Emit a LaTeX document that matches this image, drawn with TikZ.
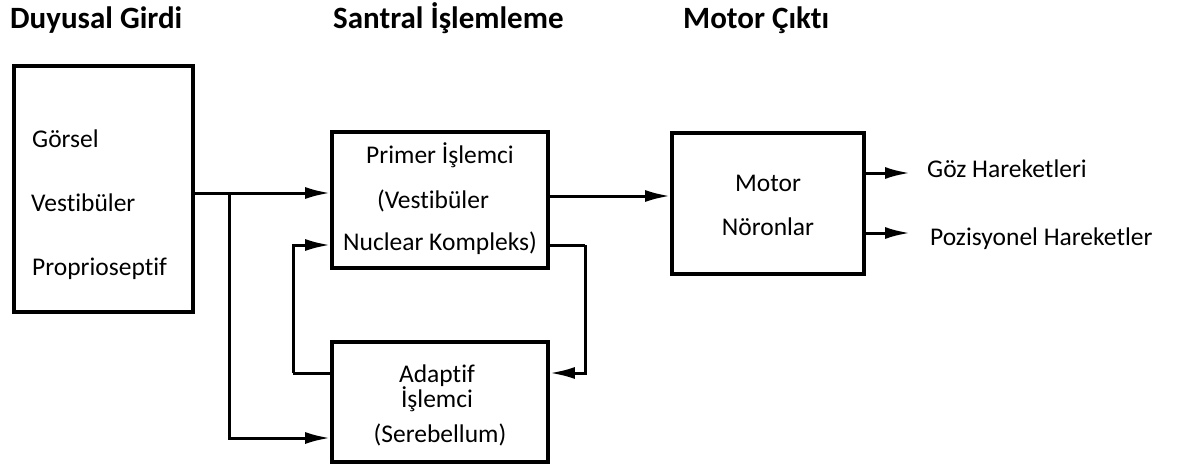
\documentclass[tikz,border=0pt]{standalone}
\usepackage{fontspec}
\setmainfont{Carlito}[Ligatures={NoCommon}]
\usetikzlibrary{arrows.meta,calc}
\tikzset{
  box/.style={draw, line width=3.6pt, rectangle, inner sep=0pt},
  lbl/.style={font=\fontsize{25.5}{28}\selectfont, inner sep=0pt, anchor=base},
  hdr/.style={font=\bfseries\fontsize{31}{34}\selectfont, inner sep=0pt, anchor=base west},
  arr/.style={line width=3pt, -{Latex[length=25pt,width=12pt]}},
  ln/.style={line width=3pt}
}
\begin{document}
\begin{tikzpicture}[x=1pt,y=-1pt]
\useasboundingbox (0,0) rectangle (1177,468);
% headers
\node[hdr] (h1) at (10,29) {Duyusal Girdi};
\node[hdr] (h2) at (333,29) {Santral İşlemleme};
\node[hdr] (h3) at (683,29) {Motor Çıktı};
% boxes
\node[box, minimum width=179pt, minimum height=246pt] (inp) at (103.5,189) {};
\node[box, minimum width=216pt, minimum height=136pt] (prim) at (440,200) {};
\node[box, minimum width=216pt, minimum height=120pt] (adap) at (440,402) {};
\node[box, minimum width=192pt, minimum height=141pt] (mot) at (768,203.5) {};
% texts
\node[lbl, anchor=base west] (t1) at (32,147) {Görsel};
\node[lbl, anchor=base west] (t2) at (31,211) {Vestibüler};
\node[lbl, anchor=base west] (t3) at (32,275) {Proprioseptif};
\node[lbl] (p1) at (440,163) {Primer İşlemci};
\node[lbl] (p2) at (433,208) {(Vestibüler};
\node[lbl] (p3) at (440,250) {Nuclear Kompleks)};
\node[lbl] (a1) at (437,382) {Adaptif};
\node[lbl] (a2) at (437,407) {İşlemci};
\node[lbl] (a3) at (440,442) {(Serebellum)};
\node[lbl] (m1) at (768,191) {Motor};
\node[lbl] (m2) at (768,235) {Nöronlar};
\node[lbl, anchor=base west] (o1) at (927,177) {Göz Hareketleri};
\node[lbl, anchor=base west] (o2) at (930,245) {Pozisyonel Hareketler};
% connectors
\coordinate (j) at (229,193);
\coordinate (fbL) at (293,373);
\coordinate (fbR) at (585,245);
\draw[arr] (inp.east |- j) -- (prim.west |- j);
\draw[arr] (j) |- (adap.west |- 0,438);
\draw[ln] (adap.west |- fbL) -- (fbL);
\draw[arr] (fbL) |- (prim.west |- 0,245);
\draw[ln] (prim.east |- fbR) -- (fbR);
\draw[arr] (fbR) |- (adap.east |- fbL);
\draw[arr] (prim.east |- 0,196) -- (mot.west |- 0,196);
\draw[arr] (mot.east |- 0,173) -- (910,173);
\draw[arr] (mot.east |- 0,233) -- (910,233);
\end{tikzpicture}
\end{document}
